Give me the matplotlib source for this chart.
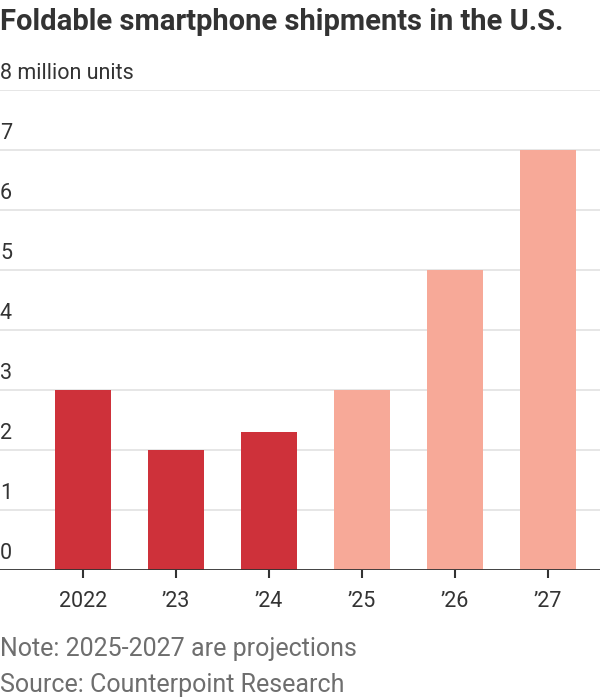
#!/usr/bin/env python3

import matplotlib.pyplot as plt
import matplotlib.transforms as mtransforms

years = ["2022", "\u201923", "\u201924", "\u201925", "\u201926", "\u201927"]
shipments = [3.0, 2.0, 2.3, 3.0, 5.0, 7.0]
projected = [False, False, False, True, True, True]
y_ticks = [0, 1, 2, 3, 4, 5, 6, 7, 8]

plt.rcParams['font.family'] = ['Roboto', 'DejaVu Sans']

fig = plt.figure(figsize=(6, 7), dpi=100)
ax = fig.add_axes([0.0, 130 / 700, 1.0, 480 / 700])

colors = ["#F7A998" if p else "#CE313A" for p in projected]
x = list(range(len(years)))
ax.bar(x, shipments, width=0.6, color=colors, zorder=3)

ax.set_xlim(-83 / 93, (600 - 83) / 93)
ax.set_ylim(0, 8)

# gridlines
for v in y_ticks:
    ax.axhline(v, color="#E2E2E2", lw=1.2, zorder=1)
ax.axhline(0, color="#333333", lw=2, zorder=4)

# y labels, sitting above the gridlines at left edge
trans = mtransforms.blended_transform_factory(ax.transAxes, ax.transData)
for v in y_ticks:
    label = "8 million units" if v == 8 else str(v)
    ax.text(0.0, v + 0.1, label, transform=trans, ha="left", va="bottom",
            fontsize=15.5, color="#333333")

ax.set_yticks([])
ax.set_xticks(x)
ax.set_xticklabels(years, fontsize=15.5, color="#333333")
ax.tick_params(axis="x", length=6, width=1.5, color="#333333", pad=9)
for s in ax.spines.values():
    s.set_visible(False)

fig.text(0.0, 1 - 22 / 700, "Foldable smartphone shipments in the U.S.",
         fontsize=21, fontweight="bold", color="#333333", ha="left", va="center")
fig.text(0.0, 1 - 649 / 700, "Note: 2025-2027 are projections",
         fontsize=18, color="#6E6E6E", ha="left", va="center")
fig.text(0.0, 1 - 685 / 700, "Source: Counterpoint Research",
         fontsize=18, color="#6E6E6E", ha="left", va="center")

fig.savefig("out.png", dpi=100)
